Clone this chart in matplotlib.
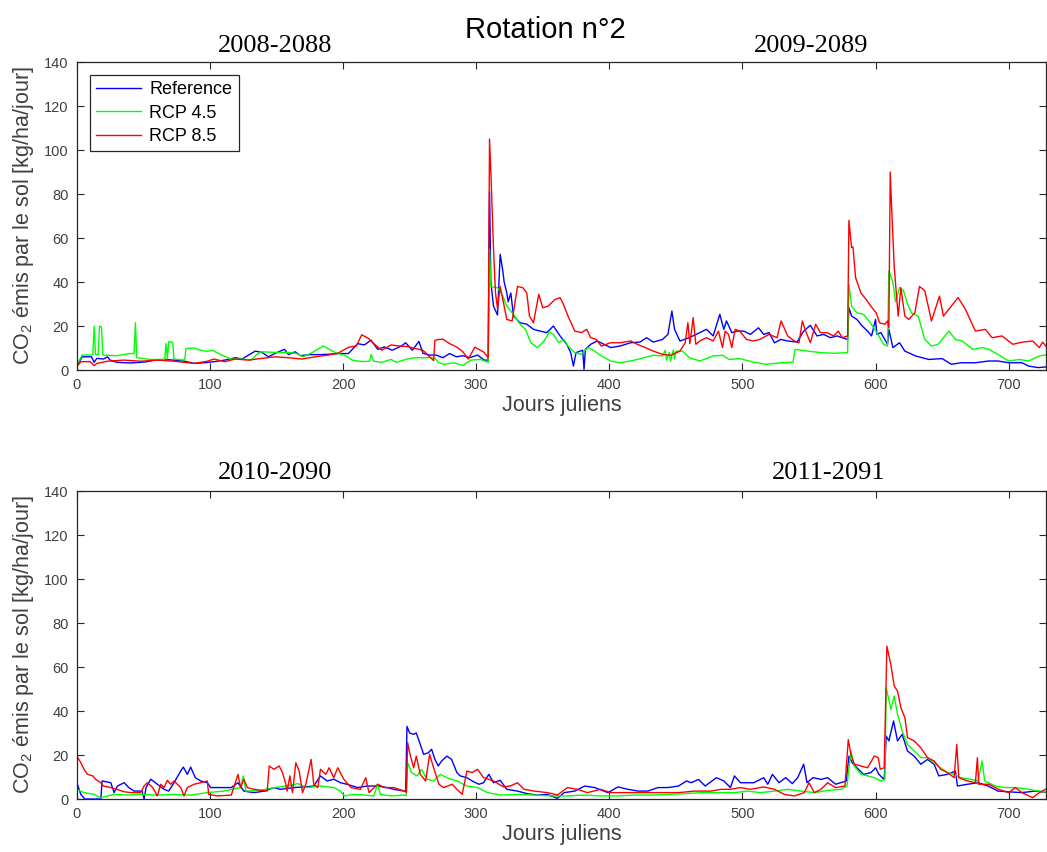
"""
Rotation n°2 - soil CO2 emissions, two 2-year windows
"""
import matplotlib
matplotlib.use('Agg')
import matplotlib.pyplot as plt

plt.rcParams['font.family'] = ['Liberation Sans', 'DejaVu Sans']
plt.rcParams['mathtext.fontset'] = 'custom'
plt.rcParams['mathtext.rm'] = 'Liberation Sans'
plt.rcParams['mathtext.it'] = 'Liberation Sans'

# ── Data: (julian day, kg/ha/day) ──
ref_top = [(0, 2), (4, 6), (11, 6), (13, 3.5), (15, 5.3), (20, 5), (23, 6), (25, 4.5), (30, 3.5), (40, 3.2),
           (48, 3.5), (53, 3.8), (58, 4.5), (65, 4.8), (73, 4.5), (81, 4), (88, 3), (96, 3.3), (103, 3.8),
           (111, 4.5), (119, 5.6), (124, 5), (129, 6.8), (134, 8.6), (139, 8), (144, 6), (149, 7.6), (156, 9.4),
           (159, 7), (164, 8.3), (168, 6.5), (175, 7), (183, 7), (190, 7.2), (196, 7.5), (204, 7.5), (211, 12),
           (216, 11.4), (221, 13.6), (226, 9.4), (231, 10.5), (237, 9), (244, 11), (247, 12.4), (252, 9),
           (257, 13), (260, 7.6), (265, 6.8), (270, 6.8), (275, 5.6), (280, 7.5), (285, 6), (290, 6.5),
           (295, 5.6), (301, 6.8), (306, 4.5), (309, 4.5), (310, 81), (311, 40), (313, 29), (316, 25),
           (318, 52.6), (320, 45), (321, 40), (323, 35), (324, 31), (326, 35), (328, 24.5), (333, 21.5),
           (338, 20.8), (343, 18.5), (348, 17.7), (353, 17), (358, 20), (363, 15.5), (368, 11.7), (371, 7.9),
           (373, 1.8), (375, 7.9), (378, 8.6), (380, 9), (381, 0.3), (382, 9.4), (386, 11.7), (391, 13.2),
           (396, 11.7), (401, 10.2), (408, 10.9), (416, 12.4), (423, 12.7), (428, 14.7), (433, 12.7),
           (440, 13.9), (444, 16.2), (447, 26.8), (449, 18.5), (453, 13.2), (460, 14.7), (468, 17), (473, 18.5),
           (478, 15.5), (483, 25.3), (486, 18.5), (488, 22.3), (492, 17), (496, 17.7), (501, 17.7), (506, 16.2),
           (512, 19.2), (516, 16.2), (520, 17), (524, 12.4), (529, 13.9), (534, 13.2), (541, 12.7), (546, 17.7),
           (551, 20.3), (556, 15.5), (561, 16.2), (566, 14.7), (571, 15.5), (579, 13.9), (580, 28.3), (582, 24.5),
           (586, 23), (590, 20), (594, 17.7), (597, 15.5), (600, 23), (601, 16.2), (604, 17), (609, 11.7),
           (610, 18.5), (613, 10.2), (618, 12.4), (622, 8.6), (630, 6.4), (640, 4.8), (650, 5.2), (657, 2.6),
           (664, 3.3), (675, 3.3), (685, 4.1), (692, 4.1), (700, 3.3), (710, 3.3), (715, 1.8), (722, 1.1),
           (730, 1.5)]

rcp45_top = [(0, 2.3), (4, 6.8), (12, 6.8), (13, 20), (14, 7), (16, 7), (17, 20), (18.5, 19.5), (19.5, 6.8),
             (30, 6.5), (40, 7.5), (43, 7.5), (44, 21.5), (45, 5.6), (55, 4.8), (66, 4.8), (67, 12), (68, 5),
             (69, 12.9), (72, 12.5), (73, 5), (81, 4.5), (82, 9.8), (88, 10), (93, 9), (98, 8.5), (102, 9),
             (108, 7), (116, 5), (124, 5), (131, 4.5), (135, 7), (139, 8.3), (149, 8), (159, 8), (165, 7.5),
             (170, 6), (177, 8), (185, 10.9), (188, 10), (194, 8), (199, 7), (201, 6.8), (207, 4.5), (214, 3.8),
             (220, 4), (221, 7), (223, 4), (229, 3.5), (236, 4.8), (240, 3.5), (248, 5), (254, 5.6), (265, 5.6),
             (269, 5.3), (272, 3.3), (276, 2.6), (283, 3.3), (290, 2.1), (296, 4.5), (303, 4.8), (309, 3.5),
             (310, 55), (311, 38), (316, 37.4), (320, 33.6), (323, 29), (328, 25.3), (333, 20.8), (337, 18.5),
             (341, 12.4), (346, 10.2), (351, 13.2), (355, 17.3), (358, 16.2), (362, 12.4), (366, 13.9),
             (369, 10.9), (374, 7.9), (379, 7.1), (384, 10.2), (389, 8.6), (394, 6.4), (401, 4.1), (408, 3.3),
             (419, 4.5), (426, 5.6), (433, 6.7), (440, 6.4), (442, 9), (443, 4.5), (445, 8), (446, 4), (448, 9),
             (449, 5), (450, 8.5), (455, 8.6), (460, 5.6), (468, 4.1), (478, 6.4), (485, 6.7), (490, 4.8),
             (498, 5.2), (508, 3.6), (518, 2.6), (529, 3.3), (538, 3.6), (539.5, 9.4), (549, 8.6), (559, 7.9),
             (569, 7.6), (579, 7.9), (580, 39), (582, 29), (586, 26), (591, 25.3), (596, 21.5), (601, 17),
             (606, 11.7), (609, 10.9), (610, 45), (613, 40), (615, 31), (618, 37.5), (621, 36), (624, 30),
             (627, 26), (632, 24.5), (637, 13.9), (642, 10.9), (647, 11.7), (655, 17.7), (660, 13.9),
             (665, 13.2), (673, 9.4), (680, 10.2), (685, 9.4), (692, 7.1), (700, 4.1), (708, 4.8), (715, 4.1),
             (723, 6.4), (730, 7.1)]

rcp85_top = [(0, 1.5), (3, 3.8), (10, 3.8), (13, 2), (15, 3), (23, 4), (35, 4.5), (48, 4), (61, 4.5), (73, 4),
             (88, 3), (98, 4), (103, 5), (111, 3.8), (119, 5), (129, 4.5), (139, 5.3), (149, 6), (159, 5.6),
             (169, 5), (179, 6), (189, 6.8), (196, 7.6), (204, 10.3), (210, 11), (214, 16), (219, 14.4),
             (223, 12), (229, 9), (236, 11.4), (241, 11), (249, 10.6), (254, 9.8), (260, 9), (265, 6),
             (268, 4.3), (269, 13.5), (272, 13.9), (275, 14), (280, 12), (285, 10.6), (290, 8.3), (294, 5),
             (299, 10.4), (306, 8), (309, 5.6), (310, 105), (311, 90), (313, 55), (314.5, 35), (316, 28),
             (318, 38), (321, 29), (323, 23), (327, 22.3), (331, 38), (335, 37.4), (338, 35), (340, 24.5),
             (343, 21.5), (347, 34.4), (350, 28.3), (354, 29), (359, 32), (363, 32.9), (365, 30.6), (369, 24.5),
             (374, 17.7), (379, 17), (383, 18.5), (386, 14.7), (390, 13.9), (394, 10.9), (401, 12.4),
             (408, 12.4), (416, 13.2), (421, 11.7), (427, 10.2), (433, 8.6), (440, 7.1), (446, 6.7), (453, 8.6),
             (457, 12.4), (459, 21.5), (460.5, 12), (463, 23.8), (465, 11.7), (468, 13.2), (473, 14.7),
             (478, 13.2), (482, 17.7), (485, 10.2), (487, 17.7), (489.5, 16.2), (492, 10.2), (494.5, 18.5),
             (498, 17.7), (503, 13.9), (508, 13.2), (513, 13.9), (520, 16.2), (526, 14.7), (529, 22.3),
             (534, 15.5), (539, 13.2), (542.5, 12.4), (545, 22.3), (547.5, 17.7), (551, 12.4), (555, 20.8),
             (558.5, 17), (563.5, 17), (568.5, 15.5), (572, 17.7), (575, 14.7), (579, 15.5), (580, 68),
             (582, 55.6), (583, 56), (585, 42), (589, 35), (593, 32), (596.5, 29), (600.5, 26), (603, 21.5),
             (607, 20.8), (609, 22.3), (610, 19.2), (611, 90), (612, 75), (614, 47), (617, 24.5), (619, 37.4),
             (622, 24.5), (625, 23), (629.5, 26), (633, 38), (637, 36), (642, 22.3), (648, 33.6), (651, 24.5),
             (655, 27.6), (662, 32.9), (667.5, 27.6), (675, 17.7), (682.5, 18.5), (687.5, 14.7), (695, 15.5),
             (703, 11.7), (710.5, 12.7), (718, 13.2), (723, 10.2), (725.5, 12.7), (730, 9.4)]

ref_bot = [(0, 7.4), (3, 2.1), (6, 0), (18, 0), (19, 8.2), (25.5, 7.4), (28, 2.9), (30.5, 5.9), (35.5, 7.4),
           (39, 5.2), (43, 3.6), (49, 3.6), (50.5, 0), (52, 5.2), (55.5, 9), (60.5, 6.7), (65.5, 4.4), (69, 3.6),
           (73, 7.4), (78, 12.7), (80, 14.5), (83, 11.2), (85.5, 14.5), (89, 9.7), (93, 8.2), (98, 7.4),
           (100.5, 5.2), (108, 5.2), (116, 5.2), (121, 7.4), (125.5, 3.6), (133, 2.9), (141, 3.6), (148, 5.2),
           (153, 4.4), (163, 5.2), (171, 5.5), (178, 5.9), (183, 10.5), (188, 8.2), (193, 9), (198, 7.4),
           (203, 6.7), (211, 5.2), (218, 5.9), (226, 5.9), (233, 5.2), (238, 4.4), (247, 3.5), (248, 33),
           (250, 30), (253, 29.4), (255, 30), (258, 24.8), (260.5, 20.3), (264, 21), (266.5, 22.6), (269, 18),
           (271.5, 15), (274, 17.3), (278, 19.5), (281.5, 18), (285.5, 12), (288, 10.5), (293, 9.7), (297, 8.2),
           (302, 6.7), (305.5, 7.4), (309.5, 11.2), (313, 7.4), (318, 8.5), (323, 4.4), (331, 3.6), (338.5, 2.4),
           (346, 1.8), (353.5, 2.1), (361, 0.3), (366, 2.9), (374, 3.6), (381.5, 5.9), (389, 5.2), (399, 2.9),
           (406.5, 5.5), (414, 4.4), (421.5, 3.6), (429, 3.6), (436.5, 5.2), (444, 5.2), (452, 5.9), (458, 8.2),
           (461.5, 7.4), (467, 8.9), (472, 5.9), (480.5, 9.7), (486, 8.2), (491, 5.2), (494, 10.5), (498.5, 7.4),
           (508.5, 7.4), (516, 9.7), (519, 6.7), (522.5, 11.2), (527.5, 7.4), (532.5, 9.7), (537.5, 7),
           (541.5, 9.7), (546, 15.8), (548.5, 7.4), (553, 9.7), (559, 8.9), (564, 9.7), (570, 6.7), (578, 8.2),
           (580, 19.5), (582.5, 16.5), (586, 14.2), (591, 11.2), (596.5, 12), (600, 14.2), (602.5, 11.2),
           (606.5, 8.9), (608, 28.6), (610, 26.4), (613.5, 35.5), (616.5, 26.4), (620, 29.4), (624, 21.8),
           (629, 19.5), (634, 15.8), (639, 18), (644, 15.8), (647.5, 10.5), (654, 11.2), (660, 12.7),
           (661.5, 5.9), (669, 6.7), (677, 7.4), (684.5, 5.9), (692, 3.6), (699.5, 3.3), (709.5, 2.9),
           (720, 3.6), (730, 2.9)]

rcp45_bot = [(0, 4.4), (5.4, 2.9), (13, 2.1), (18, 0.6), (23, 1.4), (28, 2.1), (38, 1.8), (48, 2.1), (60.5, 1.8),
             (73, 2.1), (85.5, 1.8), (98, 2.9), (110.5, 3.6), (123, 5.2), (125, 10.5), (127, 3.6), (138, 3.9),
             (148, 5.2), (158, 5.9), (166, 7), (173, 5.2), (183, 5.9), (193, 5.2), (198, 3.6), (201, 1.4),
             (208, 2.1), (216, 1.8), (223, 1.4), (226, 6.7), (228, 2.1), (236, 1.4), (246, 1.8), (247.5, 1.5),
             (248.5, 16.5), (251.5, 12), (255.5, 10.5), (259, 13.5), (263, 9), (268, 8.2), (273, 11.2),
             (278, 9.7), (285.5, 8.2), (293, 5.9), (301, 5.2), (308.5, 2.9), (318.5, 1.8), (331, 2.1),
             (343.5, 1.8), (356, 1.4), (368.5, 1.4), (381.5, 1.8), (393.5, 1.4), (406.5, 1.4), (419, 1.8),
             (431.5, 1.8), (444, 2.1), (456.5, 2.4), (469, 2.9), (481.5, 2.9), (494, 2.9), (503.5, 3.6),
             (513.5, 2.9), (524, 3.6), (534, 4.4), (544, 3.6), (554, 2.9), (564, 3.9), (574, 4.4), (578.5, 5.9),
             (581.5, 21.8), (584, 15), (589, 11.2), (594, 10.5), (599, 9.7), (604, 8.2), (607, 8.9), (608, 50.6),
             (611.5, 40.8), (614, 46.8), (616.5, 38.5), (620, 30.9), (624, 24.8), (629, 21.8), (634, 18.8),
             (639, 18.8), (647, 15), (654, 12), (659, 11.2), (664, 9.7), (672, 8.9), (677, 8.2), (680, 17.3),
             (682, 8.2), (690, 5.9), (697.5, 5.2), (705, 5.2), (715, 4.4), (723, 3.6), (730, 2.9)]

rcp85_bot = [(0, 19.5), (3, 16.5), (5.4, 13.5), (8, 11.2), (12, 10.5), (14, 9), (18, 7.4), (20, 5.9), (25.5, 5.2),
             (30, 4.4), (35.5, 3.3), (40.5, 2.9), (48, 2.9), (50.5, 5.9), (53, 7.4), (57, 5.2), (60.5, 1.4),
             (63, 6.7), (65.5, 5.2), (68, 8.5), (70.5, 6.7), (73, 8.2), (78, 5.2), (80.5, 1.4), (83, 5.2),
             (88, 6.7), (93, 7.4), (98, 8.2), (99, 2.1), (105.5, 1.4), (116, 1.8), (119.5, 8.2), (121, 11.2),
             (123, 5.2), (125.5, 9), (128, 5.2), (133, 4.4), (143, 3.6), (144.5, 15), (148, 13.5), (152, 15),
             (154.5, 12), (157, 6.7), (158, 3.6), (160, 10.5), (162, 2.9), (164.5, 16.5), (167, 12.7),
             (169.5, 2.9), (172, 6.7), (176, 18), (178, 6.7), (181, 5.2), (183, 13.5), (187, 11.2), (189.5, 14.2),
             (193, 9.7), (196, 14.2), (200.5, 9), (206, 5.2), (213, 4.4), (217, 9.7), (219.5, 2.9), (226, 6.7),
             (231, 5.2), (238, 5.2), (246, 3.6), (247.5, 3), (248.5, 25.6), (250, 21), (253, 14.2), (255, 19.5),
             (258, 11.2), (262, 8.2), (265, 20.3), (268, 14.2), (272, 6.7), (275.5, 5.2), (282, 6.7),
             (285.5, 4.4), (289.5, 2.1), (293, 12.7), (297, 12), (301, 13.5), (305.5, 9.7), (313, 8.2),
             (320.5, 5.5), (325.5, 5.9), (331, 7.4), (336, 4.4), (343.5, 3.6), (353.5, 2.9), (361, 1.8),
             (368.5, 5.2), (376, 4.4), (383.5, 2.9), (393.5, 4.4), (401, 2.9), (414, 2.9), (426.5, 2.9),
             (439, 2.9), (452, 2.9), (464, 3.6), (476.5, 3.6), (484, 4.4), (491, 4.4), (498.5, 5.2), (506, 4.4),
             (516, 5.5), (524, 4.4), (531.5, 2.1), (539, 1.4), (546.5, 2.9), (550, 7.4), (554, 2.9), (559, 4.4),
             (564, 7.4), (570, 5.2), (577, 5.9), (579.5, 27), (581.5, 20.3), (584, 15.8), (589, 15), (594, 14.2),
             (599, 19.5), (602, 18.8), (603.5, 13.5), (606.5, 14.2), (608.5, 69.5), (611.5, 61), (614, 51.4),
             (616.5, 49), (619, 41.5), (622, 37), (624, 27.9), (629, 26.4), (634, 23.3), (639, 18.8),
             (644, 17.3), (649, 13.5), (654, 12), (659, 9.7), (661, 24.8), (662.5, 9.7), (669, 8.2), (675, 7.4),
             (676.5, 18.8), (677.5, 6.7), (685, 6.7), (692.5, 4.4), (700, 2.9), (705, 5.2), (710, 2.9),
             (718, 0.6), (723, 2.9), (730, 5.2)]

series_names = ['Reference', 'RCP 4.5', 'RCP 8.5']
series_colors = ['#0000ff', '#00ff00', '#ff0000']
year_labels_top = ['2008-2088', '2009-2089']
year_labels_bot = ['2010-2090', '2011-2091']
x_ticks = list(range(0, 701, 100))
y_ticks = list(range(0, 141, 20))

DARK = '#262626'
GREY = '#404040'

fig = plt.figure(figsize=(10.47, 8.52), dpi=100, facecolor='white')
ax_top = fig.add_axes([0.0734, 0.5657, 0.9256, 0.3615])
ax_bot = fig.add_axes([0.0734, 0.0622, 0.9256, 0.3615])

for ax, data in [(ax_top, [ref_top, rcp45_top, rcp85_top]),
                 (ax_bot, [ref_bot, rcp45_bot, rcp85_bot])]:
    for pts, name, col in zip(data, series_names, series_colors):
        days, vals = zip(*pts)
        ax.plot(days, vals, color=col, linewidth=1.0, label=name)
    ax.set_xlim(0, 728)
    ax.set_ylim(0, 140)
    ax.set_xticks(x_ticks)
    ax.set_yticks(y_ticks)
    ax.tick_params(direction='in', length=5, width=0.8, top=True, right=True,
                   labelsize=10.5, colors=DARK, labelcolor=GREY, pad=6)
    for sp in ax.spines.values():
        sp.set_color(DARK)
        sp.set_linewidth(0.9)
    ax.set_xlabel('Jours juliens', fontsize=15.5, color=GREY, labelpad=2)
    ax.set_ylabel('CO$_2$ émis par le sol [kg/ha/jour]', fontsize=15.5, color=GREY, labelpad=6)

leg = ax_top.legend(loc='upper left', bbox_to_anchor=(0.0132, 0.958), borderaxespad=0,
                    fontsize=13, handlelength=2.5, handletextpad=0.45, labelspacing=0.35,
                    borderpad=0.35, fancybox=False, framealpha=1, edgecolor=DARK)
leg.get_frame().set_linewidth(0.9)

W, H = 1047, 852
fig.text(545 / W, 1 - 38 / H, 'Rotation n°2', ha='center', va='baseline', fontsize=21, color='black')
for (x, y), txt in zip([(275.5, 52.4), (811, 52.4), (275.5, 479), (829, 479)],
                       year_labels_top + year_labels_bot):
    fig.text(x / W, 1 - y / H, txt, ha='center', va='baseline', fontsize=19,
             family='Liberation Serif', color='black')

plt.savefig('out.png', dpi=100, facecolor='white')
